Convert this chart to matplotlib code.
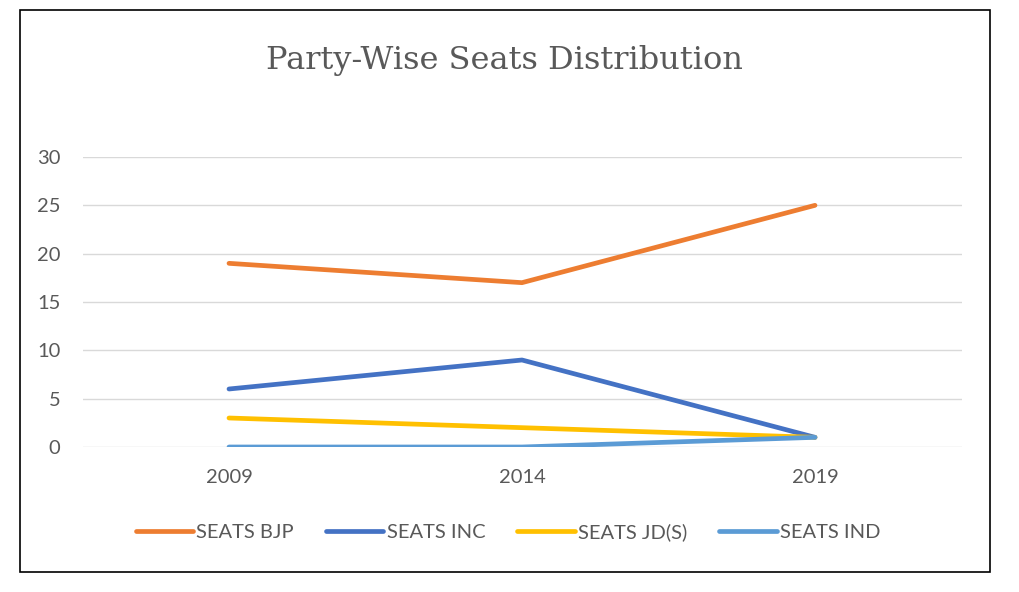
import matplotlib.pyplot as plt
from matplotlib.patches import Rectangle

years = ['2009', '2014', '2019']
seats_bjp = [19, 17, 25]
seats_inc = [6, 9, 1]
seats_jds = [3, 2, 1]
seats_ind = [0, 0, 1]

series = [
    ('SEATS BJP', seats_bjp, '#ED7D31'),
    ('SEATS INC', seats_inc, '#4472C4'),
    ('SEATS JD(S)', seats_jds, '#FFC000'),
    ('SEATS IND', seats_ind, '#5B9BD5'),
]

plt.rcParams['font.family'] = ['Lato', 'DejaVu Sans']

W, H = 1020, 592
fig = plt.figure(figsize=(W / 100, H / 100), dpi=100)
fig.patches.append(Rectangle((20 / W, 1 - 572 / H), 970 / W, 562 / H,
                             transform=fig.transFigure, fill=False,
                             edgecolor='black', linewidth=1.2))

ax = fig.add_axes([82.5 / W, 1 - 447 / H, 879 / W, 290 / H])
x = list(range(len(years)))
for name, vals, color in series:
    ax.plot(x, vals, color=color, linewidth=3.4, label=name,
            solid_capstyle='round', solid_joinstyle='round', zorder=3)

ax.set_xlim(-0.5, 2.5)
ax.set_ylim(0, 30)
ax.set_yticks(range(0, 31, 5))
ax.set_xticks(x)
ax.set_xticklabels(years)
ax.grid(axis='y', color='#D9D9D9', linewidth=1)
ax.set_axisbelow(True)
for s in ax.spines.values():
    s.set_visible(False)
ax.tick_params(length=0, labelsize=14.5, labelcolor='#595959')
ax.tick_params(axis='y', pad=16)
ax.tick_params(axis='x', pad=16)

fig.text(504 / W, 1 - 60 / H, 'Party-Wise Seats Distribution',
         ha='center', va='center', fontsize=23, color='#595959',
         family=['DejaVu Serif'])

fig.legend(loc='center', bbox_to_anchor=(508 / W, 1 - 532 / H), ncol=4,
           frameon=False, fontsize=14.5, labelcolor='#595959',
           handlelength=2.85, handletextpad=0.15, columnspacing=1.6)

fig.savefig('out.png', dpi=100)
